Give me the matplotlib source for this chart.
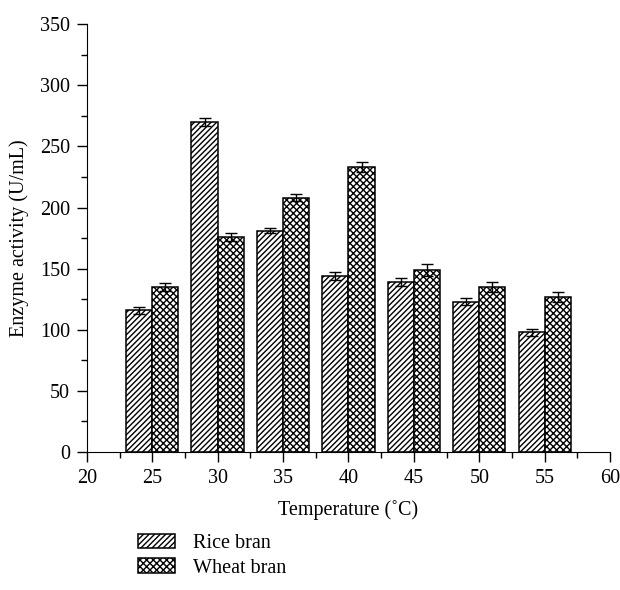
import numpy as np
import matplotlib
matplotlib.use('Agg')
import matplotlib.pyplot as plt
from matplotlib.ticker import MultipleLocator

plt.rcParams['font.family'] = ['Liberation Serif', 'DejaVu Serif']
plt.rcParams['hatch.linewidth'] = 1.0

temps = [25, 30, 35, 40, 45, 50, 55]
rice = [116, 270, 181, 144, 139, 123, 98]
rice_err = [3, 3, 2, 3, 3, 3, 3]
wheat = [135, 176, 208, 233, 149, 135, 127]
wheat_err = [3, 3, 3, 4, 5, 4, 4]

fig = plt.figure(figsize=(6.2, 5.9), dpi=100)
ax = fig.add_axes([0.140, 0.234, 0.844, 0.725])

w = 2.0
x = np.array(temps)
ekw = dict(elinewidth=1, capsize=4, capthick=1, ecolor='black')
# rice sits left of the tick, wheat right of it
ax.bar(x - w / 2, rice, width=w, color='white', edgecolor='black', hatch='//////',
       linewidth=1.1, label='Rice bran', yerr=rice_err, error_kw=ekw)
ax.bar(x + w / 2, wheat, width=w, color='white', edgecolor='black', hatch='xxxxx',
       linewidth=1.1, label='Wheat bran', yerr=wheat_err, error_kw=ekw)

ax.set_xlim(20, 60)
ax.set_ylim(0, 350)
ax.xaxis.set_major_locator(MultipleLocator(5))
ax.xaxis.set_minor_locator(MultipleLocator(2.5))
ax.yaxis.set_major_locator(MultipleLocator(50))
ax.yaxis.set_minor_locator(MultipleLocator(25))
ax.spines['top'].set_visible(False)
ax.spines['right'].set_visible(False)
ax.tick_params(which='major', length=7, width=1, labelsize=14.5, pad=5)
ax.tick_params(which='minor', length=4, width=1)
ax.set_xlabel('Temperature (\u02daC)', fontsize=14.5, labelpad=9)
ax.set_ylabel('Enzyme activity (U/mL)', fontsize=14.5, labelpad=8)

fig.legend(loc='upper left', bbox_to_anchor=(0.21, 0.108), frameon=False, fontsize=14.5,
           handlelength=1.8, handleheight=0.7, handletextpad=0.9, borderaxespad=0, labelspacing=0.25)

fig.savefig('out.png', dpi=100)
